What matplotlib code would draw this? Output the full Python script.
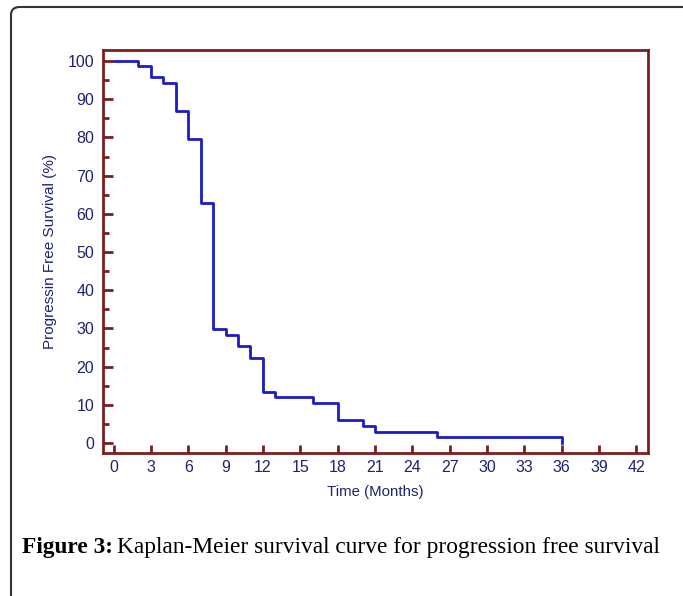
import matplotlib
matplotlib.use("Agg")
import matplotlib.pyplot as plt
from matplotlib.patches import FancyBboxPatch
from matplotlib.ticker import MultipleLocator

# Data (step function, post)
times = [0, 2, 3, 4, 5, 6, 7, 8, 9, 10, 11, 12, 13, 16, 18, 20, 21, 26, 36]
survival = [100, 98.6, 95.8, 94.3, 87.0, 79.5, 62.9, 29.9, 28.4, 25.4, 22.3, 13.3, 12.0, 10.4, 6.1, 4.5, 2.9, 1.5, 0]
x_ticks = list(range(0, 43, 3))
y_ticks = list(range(0, 101, 10))

frame_col = "#7a1e1e"
curve_col = "#1c1cc4"
text_col = "#1f2270"

W, H = 683, 596
fig = plt.figure(figsize=(W / 100, H / 100), dpi=100)
fig.patch.set_facecolor("white")

# outer rounded border (cropped on right/bottom)
border = FancyBboxPatch((11 / W, -30 / H), (W + 40) / W, (H - 7 + 30) / H,
                        boxstyle="round,pad=0,rounding_size=0.013",
                        transform=fig.transFigure, fill=False,
                        edgecolor="#333333", linewidth=1.5)
fig.patches.append(border)

ax = fig.add_axes([102.7 / W, 1 - 453 / H, (648 - 102.7) / W, (453 - 50) / H])
ax.step(times, survival, where="post", color=curve_col, linewidth=2)

ax.set_xlim(-0.87, 42.93)
ax.set_ylim(-2.62, 102.9)
ax.set_xticks(x_ticks)
ax.set_yticks(y_ticks)
ax.yaxis.set_minor_locator(MultipleLocator(5))

for s in ax.spines.values():
    s.set_color(frame_col)
    s.set_linewidth(2)

ax.tick_params(axis="both", which="major", direction="in", color=frame_col,
               width=2, labelcolor=text_col, labelsize=11.5)
ax.tick_params(axis="y", which="major", length=7, pad=6)
ax.tick_params(axis="x", which="major", length=6, pad=5)
ax.tick_params(axis="y", which="minor", direction="in", length=4, width=2, color=frame_col)
for lab in ax.get_xticklabels() + ax.get_yticklabels():
    lab.set_fontfamily("Liberation Sans")

ax.set_xlabel("Time (Months)", color=text_col, fontsize=10.8, family="Liberation Sans", labelpad=7)
ax.set_ylabel("Progressin Free Survival (%)", color=text_col, fontsize=11, family="Liberation Sans", labelpad=8)

# caption
cap_y = 1 - 548 / H
t1 = fig.text(22 / W, cap_y, "Figure 3:", fontsize=16.8, fontweight="bold",
              family="Liberation Serif", va="center", ha="left", color="black")
fig.canvas.draw()
bb = t1.get_window_extent(renderer=fig.canvas.get_renderer())
fig.text((bb.x1 + 4) / W, cap_y, "Kaplan-Meier survival curve for progression free survival",
         fontsize=16.8, family="Liberation Serif", va="center", ha="left", color="black")

fig.savefig("out.png", dpi=100)
